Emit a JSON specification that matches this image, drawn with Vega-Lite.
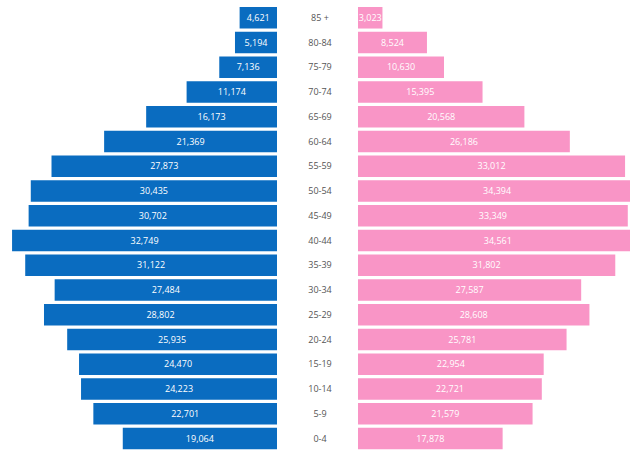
{
  "$schema": "https://vega.github.io/schema/vega-lite/v6.json",
  "padding": 0,
  "spacing": 0,
  "background": "white",
  "config": {"view": {"stroke": null}, "concat": {"spacing": 0}},
  "data": {"values": [
    {"age": "85 +", "male": 4621, "female": 3023},
    {"age": "80-84", "male": 5194, "female": 8524},
    {"age": "75-79", "male": 7136, "female": 10630},
    {"age": "70-74", "male": 11174, "female": 15395},
    {"age": "65-69", "male": 16173, "female": 20568},
    {"age": "60-64", "male": 21369, "female": 26186},
    {"age": "55-59", "male": 27873, "female": 33012},
    {"age": "50-54", "male": 30435, "female": 34394},
    {"age": "45-49", "male": 30702, "female": 33349},
    {"age": "40-44", "male": 32749, "female": 34561},
    {"age": "35-39", "male": 31122, "female": 31802},
    {"age": "30-34", "male": 27484, "female": 27587},
    {"age": "25-29", "male": 28802, "female": 28608},
    {"age": "20-24", "male": 25935, "female": 25781},
    {"age": "15-19", "male": 24470, "female": 22954},
    {"age": "10-14", "male": 24223, "female": 22721},
    {"age": "5-9", "male": 22701, "female": 21579},
    {"age": "0-4", "male": 19064, "female": 17878}
  ]},
  "hconcat": [
    {
      "width": 277,
      "height": 450,
      "encoding": {
        "y": {"field": "age", "type": "nominal", "axis": null,
              "sort": ["85 +","80-84","75-79","70-74","65-69","60-64","55-59","50-54","45-49","40-44","35-39","30-34","25-29","20-24","15-19","10-14","5-9","0-4"],
              "scale": {"type": "band", "paddingInner": 0.13, "paddingOuter": 0.155, "align": 0.913}}
      },
      "layer": [
        {
          "mark": {"type": "bar", "color": "#0a6cc0"},
          "encoding": {
            "x": {"field": "male", "type": "quantitative", "axis": null,
                  "scale": {"domain": [0, 34240], "reverse": true, "nice": false}}
          }
        },
        {
          "mark": {"type": "text", "color": "white", "fontSize": 9, "font": "Open Sans", "align": "center", "baseline": "middle"},
          "encoding": {
            "x": {"field": "male", "type": "quantitative", "axis": null,
                  "scale": {"domain": [0, 68480], "reverse": true, "nice": false}},
            "text": {"field": "male", "type": "quantitative", "format": ","}
          }
        }
      ],
      "resolve": {"scale": {"x": "independent"}}
    },
    {
      "width": 81,
      "height": 450,
      "mark": {"type": "text", "color": "#555555", "fontSize": 9, "font": "Open Sans", "align": "center", "baseline": "middle", "dx": 2.5},
      "encoding": {
        "y": {"field": "age", "type": "nominal", "axis": null,
              "sort": ["85 +","80-84","75-79","70-74","65-69","60-64","55-59","50-54","45-49","40-44","35-39","30-34","25-29","20-24","15-19","10-14","5-9","0-4"],
              "scale": {"type": "band", "paddingInner": 0.13, "paddingOuter": 0.155, "align": 0.913}},
        "text": {"field": "age", "type": "nominal"}
      }
    },
    {
      "width": 272,
      "height": 450,
      "encoding": {
        "y": {"field": "age", "type": "nominal", "axis": null,
              "sort": ["85 +","80-84","75-79","70-74","65-69","60-64","55-59","50-54","45-49","40-44","35-39","30-34","25-29","20-24","15-19","10-14","5-9","0-4"],
              "scale": {"type": "band", "paddingInner": 0.13, "paddingOuter": 0.155, "align": 0.913}}
      },
      "layer": [
        {
          "mark": {"type": "bar", "color": "#f995c6", "clip": true},
          "encoding": {
            "x": {"field": "female", "type": "quantitative", "axis": null,
                  "scale": {"domain": [0, 33622], "nice": false}}
          }
        },
        {
          "mark": {"type": "text", "color": "white", "fontSize": 9, "font": "Open Sans", "align": "center", "baseline": "middle"},
          "encoding": {
            "x": {"field": "female", "type": "quantitative", "axis": null,
                  "scale": {"domain": [0, 67244], "nice": false}},
            "text": {"field": "female", "type": "quantitative", "format": ","}
          }
        }
      ],
      "resolve": {"scale": {"x": "independent"}}
    }
  ]
}
